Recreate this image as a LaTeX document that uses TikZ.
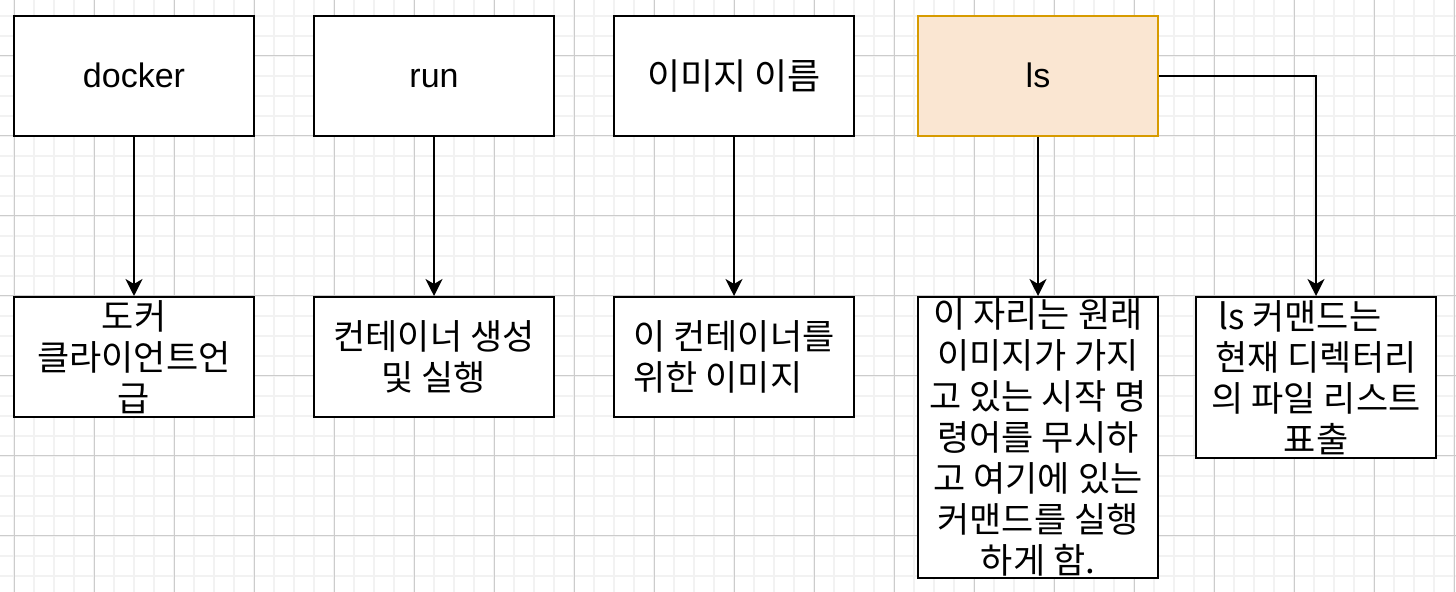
\documentclass[tikz,border=0pt]{standalone}
\usepackage{fontspec}
\setmainfont{Liberation Sans}
\newfontfamily\krfont{Noto Sans CJK KR}
\usetikzlibrary{arrows.meta}

\definecolor{lsfill}{HTML}{FAE6D2}
\definecolor{lsdraw}{HTML}{D79B00}

\tikzset{
	box/.style={draw=black, line width=1pt, fill=white, minimum width=120pt, minimum height=60pt, inner sep=0pt, align=center},
	latinlabel/.style={font=\fontsize{17}{20}\selectfont, text height=12.5pt, text depth=0.5pt},
	krtop/.style={font=\krfont\fontsize{18}{20}\selectfont},
	krtext/.style={font=\krfont\fontsize{17.5}{20.5}\selectfont},
	link/.style={line width=1pt, -{Stealth[length=8.5pt, width=8.5pt, inset=2.5pt]}},
	minorline/.style={line width=0.75pt, black!5},
	majorline/.style={line width=0.5pt, black!20}
}

\begin{document}
\begin{tikzpicture}[x=0.5pt, y=-0.5pt]

		\pgfmathsetmacro{\topy}{76}
		\pgfmathsetmacro{\bottomy}{296}

		\useasboundingbox (0,0) rectangle (1456,592);
		\fill[white] (0,0) rectangle (1456,592);

		% draw background grid
		\foreach \gx in {14,34,...,1454}
			\draw[minorline] (\gx,0) -- (\gx,592);
		\foreach \gy in {16,36,...,576}
			\draw[minorline] (0,\gy) -- (1456,\gy);
		\foreach \gx in {14,94,...,1454}
			\draw[majorline] (\gx,0) -- (\gx,592);
		\foreach \gy in {56,136,...,536}
			\draw[majorline] (0,\gy) -- (1456,\gy);

		% draw top row
		\node[box, latinlabel] (docker) at (134,\topy) {docker};
		\node[box, latinlabel] (run) at (434,\topy) {run};
		\node[box, krtop] (imgname) at (734,\topy) {이미지 이름};
		\node[box, latinlabel, fill=lsfill, draw=lsdraw] (ls) at (1038,\topy) {ls};

		% draw bottom row
		\node[box, krtext, anchor=north] (dockerdesc) at (134,\bottomy) {도커\\클라이언트언\\급};
		\node[box, krtext, anchor=north] (rundesc) at (434,\bottomy) {컨테이너 생성\\및 실행};
		\node[box, krtext, anchor=north] (imgdesc) at (734,\bottomy) {이 컨테이너를\\위한 이미지\phantom{이}};
		\node[box, krtext, anchor=north, minimum height=140.5pt] (cmddesc) at (1038,\bottomy)
			{이 자리는 원래\\이미지가 가지\\고 있는 시작 명\\령어를 무시하\\고 여기에 있는\\커맨드를 실행\\하게 함.};
		\node[box, krtext, anchor=north, minimum height=80.5pt] (lsdesc) at (1316,\bottomy)
			{ls 커맨드는\phantom{이}\\현재 디렉터리\\의 파일 리스트\\표출};

		% draw connectors
		\draw[link] (docker) -- (dockerdesc);
		\draw[link] (run) -- (rundesc);
		\draw[link] (imgname) -- (imgdesc);
		\draw[link] (ls) -- (cmddesc);
		\draw[link] (ls.east) -| (lsdesc.north);

	\end{tikzpicture}
\end{document}
